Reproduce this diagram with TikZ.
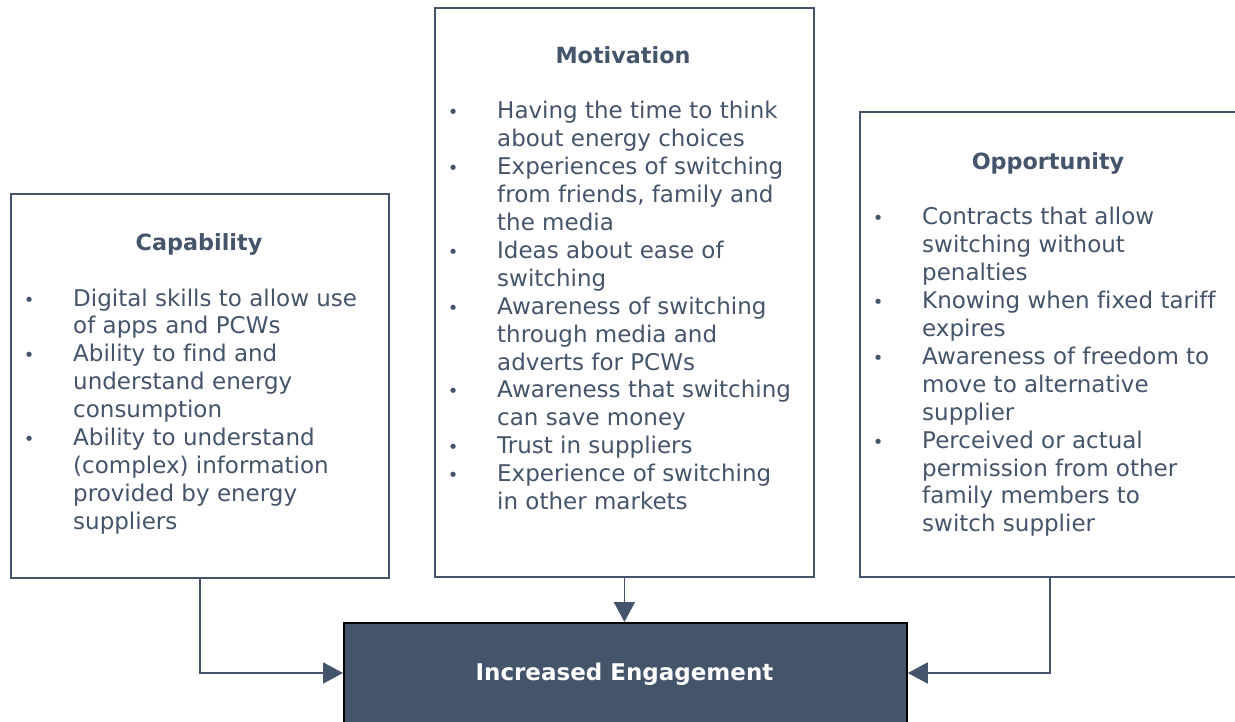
\documentclass[tikz,border=0pt]{standalone}
\usepackage{fontspec}
\setmainfont[Ligatures=NoCommon]{DejaVu Sans}
\usetikzlibrary{arrows.meta}
\definecolor{slate}{HTML}{44546A}
\newcommand{\bul}{\makebox[44pt][l]{\makebox[0pt]{\fontsize{18}{18}\selectfont •}}}
\newcommand{\ind}{\hspace*{44pt}}
\tikzset{
  box/.style={draw=slate, line width=1.8pt, fill=white, inner sep=0pt, anchor=north west},
  title/.style={text=slate, font=\fontsize{22.3}{26}\selectfont\bfseries, anchor=base, inner sep=0pt},
  body/.style={text=slate, font=\fontsize{23}{27.9}\selectfont, anchor=base west, inner sep=0pt},
  conn/.style={draw=slate, line width=1.8pt, -{Triangle[length=20pt,width=21pt]}},
}
\begin{document}
\begin{tikzpicture}[x=1pt,y=-1pt]
\useasboundingbox (0,0) rectangle (1235,722);
\clip (0,0) rectangle (1235,722);
% boxes
\node[box, minimum width=378pt, minimum height=384pt] (cap) at (10,193) {};
\node[box, minimum width=379pt, minimum height=569pt] (mot) at (434,7) {};
\node[box, minimum width=380pt, minimum height=465pt] (opp) at (859,111) {};
\node[draw=black, line width=1.8pt, fill=slate, inner sep=0pt, anchor=north west,
      minimum width=563pt, minimum height=104pt] (eng) at (343,622) {};
% titles
\node[title] (capt) at (199,251) {Capability};
\node[title] (mott) at (623,64) {Motivation};
\node[title] (oppt) at (1048,170) {Opportunity};
\node[text=white, font=\fontsize{23}{26}\selectfont\bfseries, anchor=base, inner sep=0pt] (engt) at (624.5,680) {Increased Engagement};
% bodies
\node[body] (capb) at (29,306) {\begin{tabular}[t]{@{}l@{}}
\bul Digital skills to allow use\\
\ind of apps and PCWs\\
\bul Ability to find and\\
\ind understand energy\\
\ind consumption\\
\bul Ability to understand\\
\ind (complex) information\\
\ind provided by energy\\
\ind suppliers
\end{tabular}};
\node[body] (motb) at (453,119) {\begin{tabular}[t]{@{}l@{}}
\bul Having the time to think\\
\ind about energy choices\\
\bul Experiences of switching\\
\ind from friends, family and\\
\ind the media\\
\bul Ideas about ease of\\
\ind switching\\
\bul Awareness of switching\\
\ind through media and\\
\ind adverts for PCWs\\
\bul Awareness that switching\\
\ind can save money\\
\bul Trust in suppliers\\
\bul Experience of switching\\
\ind in other markets
\end{tabular}};
\node[body] (oppb) at (878,225) {\begin{tabular}[t]{@{}l@{}}
\bul Contracts that allow\\
\ind switching without\\
\ind penalties\\
\bul Knowing when fixed tariff\\
\ind expires\\
\bul Awareness of freedom to\\
\ind move to alternative\\
\ind supplier\\
\bul Perceived or actual\\
\ind permission from other\\
\ind family members to\\
\ind switch supplier
\end{tabular}};
% connectors
\draw[conn] (cap.south) |- (eng.west |- 0,673);
\draw[conn] (mot.south) -- (mot.south |- eng.north);
\draw[conn] (opp.south) |- (eng.east |- 0,673);
\end{tikzpicture}
\end{document}
